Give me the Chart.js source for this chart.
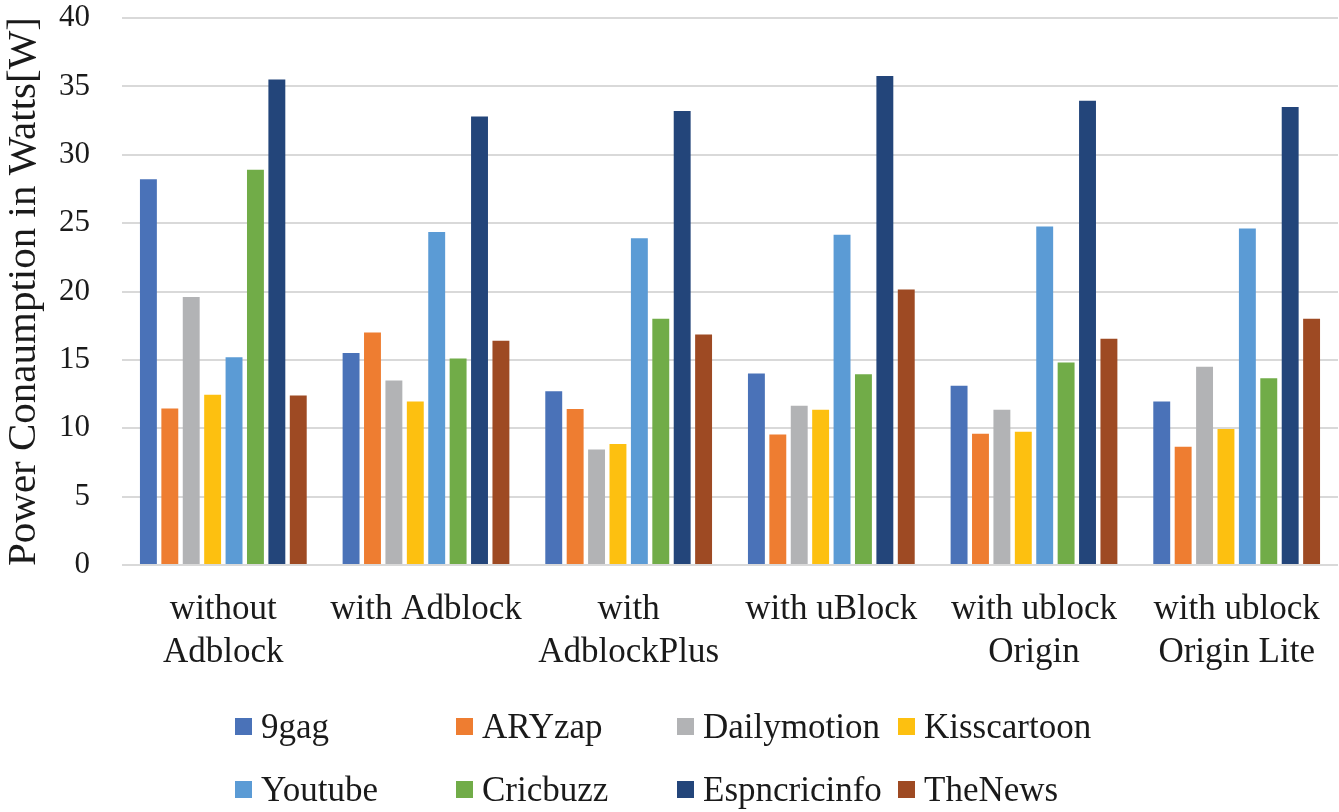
<!DOCTYPE html>
<html>
<head>
<meta charset="utf-8">
<script src="https://cdn.jsdelivr.net/npm/chart.js@4.4.0/dist/chart.umd.min.js"></script>
<style>
  html, body { margin: 0; padding: 0; background: #fff; }
  #wrap { position: relative; width: 1339px; height: 812px; }
  #legend { position: absolute; left: 235px; top: 706px; display: grid;
    grid-template-columns: repeat(4, 221px); row-gap: 22px;
    font-family: 'Liberation Serif', 'Times New Roman', serif; font-size: 35px; color: #1a1a1a; }
  .item { display: flex; align-items: center; height: 41px; white-space: nowrap; }
  .box { width: 17px; height: 17px; margin-right: 9px; flex: none; }
</style>
</head>
<body>
<div id="wrap">
  <canvas id="powerChart" width="1339" height="812"></canvas>
  <div id="legend"></div>
</div>
<script>
// Power consumption per site, per ad blocker
const categories = [
  ['without', 'Adblock'], 'with Adblock', ['with', 'AdblockPlus'],
  'with uBlock', ['with ublock', 'Origin'], ['with ublock', 'Origin Lite']
];
const sites = ['9gag', 'ARYzap', 'Dailymotion', 'Kisscartoon', 'Youtube', 'Cricbuzz', 'Espncricinfo', 'TheNews'];
const colors = ['#4a72b8', '#ee7d31', '#b2b3b5', '#fdc010', '#5b9bd5', '#71ac48', '#23457a', '#9e4a23'];

const gag9        = [28.2, 15.5, 12.7, 14.0, 13.1, 11.95];
const aryzap      = [11.45, 17.0, 11.4, 9.55, 9.6, 8.65];
const dailymotion = [19.6, 13.5, 8.45, 11.65, 11.35, 14.5];
const kisscartoon = [12.45, 11.95, 8.85, 11.35, 9.75, 9.95];
const youtube     = [15.2, 24.35, 23.9, 24.15, 24.75, 24.6];
const cricbuzz    = [28.9, 15.1, 18.0, 13.95, 14.8, 13.65];
const espn        = [35.5, 32.8, 33.2, 35.75, 33.95, 33.5];
const thenews     = [12.4, 16.4, 16.85, 20.15, 16.55, 18.0];
const yTicks = [0, 5, 10, 15, 20, 25, 30, 35, 40];

const series = [gag9, aryzap, dailymotion, kisscartoon, youtube, cricbuzz, espn, thenews];
const serif = "'Liberation Serif', 'Times New Roman', serif";

new Chart(document.getElementById('powerChart'), {
  type: 'bar',
  data: {
    labels: categories,
    datasets: series.map((d, i) => ({
      label: sites[i], data: d, backgroundColor: colors[i],
      categoryPercentage: 0.845, barPercentage: 0.79
    }))
  },
  options: {
    responsive: false,
    animation: false,
    layout: { padding: { top: 18, right: 1, left: 0, bottom: 0 } },
    plugins: { legend: { display: false }, tooltip: { enabled: false } },
    scales: {
      x: {
        grid: { display: false },
        border: { display: false },
        ticks: { color: '#1a1a1a', padding: 15, maxRotation: 0, autoSkip: false,
          font: { family: serif, size: 35, lineHeight: 1.23 } },
        afterFit: s => { s.height = 247; s.paddingLeft = 0; s.paddingRight = 0; }
      },
      y: {
        min: 0, max: 40,
        afterBuildTicks: s => { s.ticks = yTicks.map(v => ({ value: v })); },
        grid: { color: '#d9d9d9', lineWidth: 2, drawTicks: false },
        border: { display: false },
        ticks: { color: '#1a1a1a', padding: 32, font: { family: serif, size: 31 } },
        title: { display: true, text: 'Power Conaumption in Watts[W]', color: '#1a1a1a',
          padding: 0, font: { family: serif, size: 41 } },
        afterFit: s => { s.width = 122; s.paddingTop = 0; s.paddingBottom = 0; }
      }
    }
  }
});

document.getElementById('legend').innerHTML = sites.map((s, i) =>
  `<div class="item"><span class="box" style="background:${colors[i]}"></span>${s}</div>`).join('');
</script>
</body>
</html>
